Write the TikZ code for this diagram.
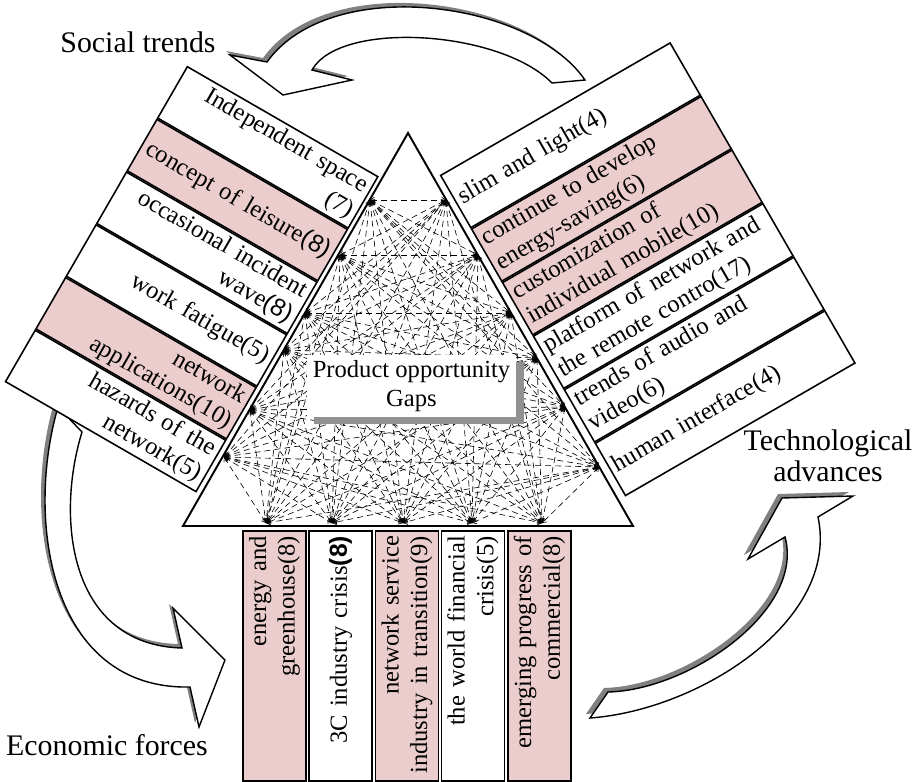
\documentclass[tikz,border=0pt]{standalone}
\usepackage{fontspec}
\setmainfont{Liberation Serif}
\setsansfont{Liberation Sans}
\usetikzlibrary{arrows.meta,positioning,shadows}

\definecolor{gapred}{RGB}{236,205,205}
\definecolor{shadowgray}{RGB}{128,128,128}

\newcommand{\rowfont}{\fontsize{14pt}{16.3pt}\selectfont}
\newcommand{\tagfont}{\fontsize{17pt}{17.5pt}\selectfont}

\begin{document}
\begin{tikzpicture}[x=0.02cm, y=-0.02cm,
  cell/.style={draw, line width=0.9pt, fill=white, inner sep=0pt, font=\rowfont},
  sbox/.style={cell, rotate=-30, minimum width=4.4cm, minimum height=1.186cm, text width=4.2cm, align=right},
  tbox/.style={cell, rotate=30, minimum width=5.3cm, minimum height=1.206cm, text width=5.1cm, align=left},
  ebox/.style={cell, rotate=90, minimum width=5cm, minimum height=1.26cm, text width=4.8cm, align=right},
  gapfill/.style={fill=gapred},
  trend/.style={font=\tagfont, align=center},
  bigarrow/.style={draw, line width=0.8pt, fill=white,
    general shadow={fill=shadowgray, shadow xshift=-0.08cm, shadow yshift=0.08cm}},
  gapline/.style={dash pattern=on 3.4pt off 2.3pt, line width=0.35pt, <->,
    >={Straight Barb[length=2.2pt,width=3.2pt,line width=0.35pt]}},
  gapbox/.style={fill=white, minimum width=4.06cm, minimum height=1.2cm, align=center, font=\rowfont,
    general shadow={fill=black!43, shadow xshift=0.15cm, shadow yshift=-0.14cm}}]

\useasboundingbox (0,0) rectangle (921,782);

% the three forces, as curved block arrows
\draw[bigarrow] (552,83) -- (585,80) .. controls (530,0) and (330,-26) .. (267,62)
  -- (230,55) -- (283,95) -- (352,80) -- (312,70) .. controls (340,20) and (500,30) .. (552,83) -- cycle;
\draw[bigarrow] (58,407) .. controls (25,520) and (50,690) .. (190,687)
  -- (199,727) -- (225,660) -- (173,608) -- (182,648) .. controls (70,645) and (55,520) .. (82,432) -- cycle;
\draw[bigarrow] (590,718) .. controls (700,710) and (840,620) .. (818,517)
  -- (853,496) -- (782,498) -- (748,559) -- (785,537) .. controls (805,610) and (690,690) .. (608,692) -- cycle;

\node[trend] (soc) at (138,42) {Social trends};
\node[trend] (eco) at (107,745) {Economic forces};
\node[trend] (tec) at (828,456) {Technological\\advances};

% triangle and the points on its sides
\coordinate (apex) at (408,133);
\coordinate (bl) at (183,526);
\coordinate (br) at (633,526);

\coordinate (l1) at (370,200);
\coordinate (l2) at (340,255);
\coordinate (l3) at (305,313);
\coordinate (l4) at (284,350);
\coordinate (l5) at (250,410);
\coordinate (l6) at (224,457);
\coordinate (r1) at (446,200);
\coordinate (r2) at (478,255);
\coordinate (r3) at (511,313);
\coordinate (r4) at (537,358);
\coordinate (r5) at (565,407);
\coordinate (r6) at (599,467);
\coordinate (b1) at (266,523);
\coordinate (b2) at (332,523);
\coordinate (b3) at (403,523);
\coordinate (b4) at (472,523);
\coordinate (b5) at (542,523);

\foreach \i in {1,...,6} {
  \foreach \j in {1,...,6} \draw[gapline] (l\i) -- (r\j);
  \foreach \j in {1,...,5} {
    \draw[gapline] (l\i) -- (b\j);
    \draw[gapline] (r\i) -- (b\j);
  }
}

\draw[line width=1.1pt] (apex) -- (bl) -- (br) -- cycle;

% social trends
\node[sbox, anchor=north] (s1) at (283,121) {Independent space\\(7)};
\node[sbox, gapfill, below=0pt of s1] (s2) {concept of leisure\textsf{(8)}};
\node[sbox, below=0pt of s2] (s3) {occasional incident\\wave\textsf{(8)}};
\node[sbox, below=0pt of s3] (s4) {work fatigue(5)};
\node[sbox, gapfill, below=0pt of s4] (s5) {network\\applications(10)};
\node[sbox, below=0pt of s5] (s6) {hazards of the\\network(5)};

% technological advances
\node[tbox, anchor=north] (t1) at (555,108.5) {slim and light(4)};
\node[tbox, gapfill, below=0pt of t1] (t2) {continue to develop\\energy-saving(6)};
\node[tbox, gapfill, below=0pt of t2] (t3) {customization of\\individual mobile(10)};
\node[tbox, below=0pt of t3] (t4) {platform of network and\\the remote contro(17)};
\node[tbox, below=0pt of t4] (t5) {trends of audio and\\video(6)};
\node[tbox, below=0pt of t5] (t6) {human interface(4)};

% economic forces
\node[ebox, gapfill] (e1) at (274.5,656) {energy and\\greenhouse(8)};
\node[ebox] (e2) at (340.5,656) {3C industry crisis\textbf{\textsf{(8)}}};
\node[ebox, gapfill] (e3) at (407,656) {network service\\industry in transition(9)};
\node[ebox] (e4) at (473,656) {the world financial\\crisis(5)};
\node[ebox, gapfill] (e5) at (539.5,656) {emerging progress of\\commercial(8)};

\node[gapbox] (pog) at (411.5,386) {Product opportunity\\Gaps};
\end{tikzpicture}
\end{document}
